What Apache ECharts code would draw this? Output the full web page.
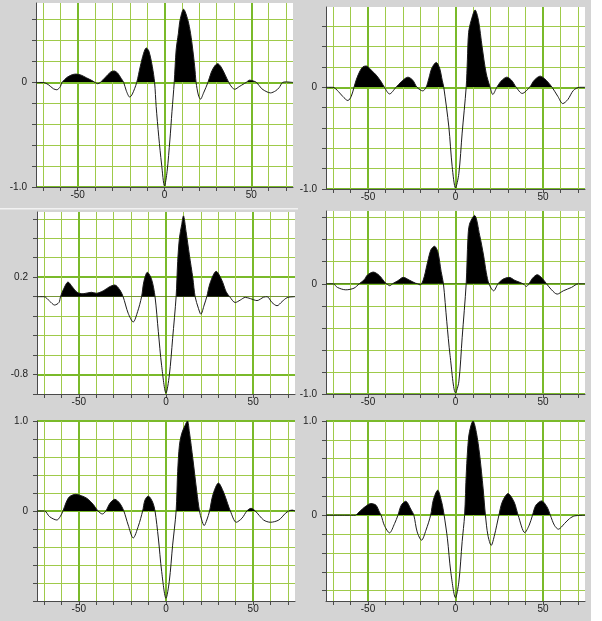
<!DOCTYPE html>
<html><head><meta charset="utf-8">
<script src="https://cdn.jsdelivr.net/npm/echarts@6/dist/echarts.min.js"></script>
<style>html,body{margin:0;padding:0;background:#fff}#c{width:602px;height:621px}</style>
</head><body><div id="c"></div>
<script>
// ---- data: [lag, correlation] ----
const trace1 = [[-74,0],[-70,0],[-67,-0.02],[-64,-0.06],[-62,-0.07],[-60,-0.04],[-59,0],[-56,0.05],[-53,0.075],[-51,0.08],[-48,0.07],[-45,0.045],[-42,0.02],[-40,0],[-38.5,-0.012],[-37,0],[-34,0.05],[-31,0.1],[-29,0.11],[-27,0.09],[-25,0.04],[-23.5,0],[-22,-0.08],[-20,-0.14],[-18.5,-0.11],[-16,0],[-14,0.15],[-12,0.28],[-10.5,0.33],[-9,0.3],[-7,0.15],[-5.7,0],[-4.8,-0.23],[-3.3,-0.52],[-1.7,-0.78],[0,-0.99],[1.5,-0.85],[3.1,-0.55],[4.3,-0.28],[5.6,0],[6.7,0.31],[8,0.47],[9,0.6],[11,0.7],[13.4,0.6],[15,0.47],[16.3,0.31],[17.4,0.15],[18.2,0],[19.5,-0.12],[20.7,-0.16],[22.5,-0.1],[25,0],[27,0.1],[29,0.16],[30.6,0.18],[32.5,0.15],[35,0.07],[37,0],[39,-0.05],[40.5,-0.065],[43,-0.04],[46,-0.01],[47,0],[49,0.022],[51,0.015],[53,0],[56,-0.06],[59,-0.09],[61,-0.1],[64,-0.08],[66,-0.05],[68,0],[70,0.005],[74,0]];
const trace2 = [[-74,0],[-70,0],[-67,-0.04],[-64.4,-0.09],[-61.5,-0.13],[-59.6,-0.09],[-58,0],[-56.8,0.07],[-54.9,0.15],[-53,0.2],[-51,0.21],[-48.2,0.17],[-45.3,0.12],[-42.5,0.055],[-40.6,0],[-37.7,-0.065],[-34,0],[-31,0.055],[-27.2,0.1],[-24.4,0.07],[-22,0],[-18.7,-0.035],[-16.8,0],[-15.2,0.09],[-13.5,0.19],[-11,0.245],[-9.1,0.19],[-7.6,0.07],[-6.7,0],[-3.8,-0.39],[-1.9,-0.78],[0,-0.99],[1.9,-0.85],[3.8,-0.45],[6.1,0],[6.8,0.27],[7.5,0.54],[9,0.66],[11.2,0.76],[13.1,0.66],[15.2,0.4],[17.5,0.14],[19.8,0],[21.3,-0.07],[23.6,0],[26,0.06],[29.3,0.1],[32,0.07],[34.7,0],[38.1,-0.06],[42.3,0],[45,0.07],[48.4,0.11],[51.8,0.07],[55.2,0],[58.5,-0.09],[61.3,-0.16],[64.2,-0.12],[67.4,-0.03],[70.9,0],[74,0]];
const trace3 = [[-74,0],[-70,0],[-66.8,-0.045],[-63.9,-0.086],[-61.4,-0.06],[-60.5,0],[-58.7,0.08],[-56.2,0.15],[-53.7,0.1],[-51,0.045],[-47.6,0.03],[-42.8,0.045],[-40,0.035],[-36,0.06],[-32.6,0.1],[-29.4,0.12],[-26.5,0.07],[-24.6,0],[-21.7,-0.17],[-18.8,-0.26],[-16.3,-0.155],[-14,0],[-12.7,0.155],[-10.7,0.25],[-8.3,0.18],[-6.3,0],[-4.4,-0.36],[-2.5,-0.71],[0,-0.99],[1.9,-0.81],[3.8,-0.43],[5.8,0],[6.7,0.36],[7.7,0.6],[9,0.74],[10,0.83],[11.5,0.67],[13.4,0.43],[15.4,0.19],[16.7,0],[18.6,-0.12],[20,-0.18],[21.9,-0.086],[23.4,0],[25.3,0.14],[28.8,0.26],[32,0.17],[34.5,0.05],[36.5,0],[39.7,-0.06],[42.6,-0.035],[45.5,-0.007],[48.4,-0.02],[52.2,-0.04],[56,-0.005],[58,0],[60.8,-0.06],[63.7,-0.093],[66.6,-0.05],[69.5,-0.01],[74,0]];
const trace4 = [[-74,0],[-70,0],[-67.5,-0.033],[-62.7,-0.055],[-58,-0.04],[-55,0],[-52.2,0.036],[-50.3,0.08],[-47,0.106],[-43.6,0.076],[-40.7,0.02],[-39.4,0],[-37.5,-0.018],[-36,0],[-33,0.027],[-29.8,0.058],[-26.4,0.033],[-23,0.006],[-21.6,0],[-20.3,-0.01],[-19.3,0],[-17.8,0.067],[-15.9,0.2],[-14,0.31],[-12,0.34],[-10.1,0.29],[-8.2,0.11],[-6.9,0],[-5,-0.34],[-3.1,-0.65],[0,-0.99],[1.9,-0.89],[3.8,-0.49],[6.1,0],[7.1,0.41],[8,0.54],[10.9,0.62],[13.8,0.44],[16,0.26],[17.6,0.1],[19.1,0],[21.8,-0.064],[24.3,0],[27,0.04],[30.6,0.058],[34,0.03],[38.6,0],[40.5,-0.024],[42,0],[44,0.05],[46.7,0.082],[49.5,0.05],[52,0],[54.9,-0.055],[58.1,-0.094],[61.6,-0.064],[66.3,-0.033],[70.2,0],[74,0]];
const trace5 = [[-74,0],[-69.7,0],[-66.8,-0.063],[-62.6,-0.1],[-60.7,-0.063],[-59.1,0],[-57.2,0.1],[-55.3,0.16],[-51.8,0.185],[-48.6,0.17],[-45.3,0.14],[-41.8,0.074],[-39,0],[-36.5,-0.033],[-34.5,0],[-32.2,0.085],[-29.4,0.13],[-26.5,0.085],[-24.2,0],[-21.7,-0.155],[-18.8,-0.3],[-15.9,-0.17],[-13.4,0],[-12.1,0.12],[-10.2,0.166],[-7.7,0.1],[-6.3,0],[-4.4,-0.3],[-2.5,-0.67],[0,-0.97],[1.9,-0.78],[3.8,-0.38],[5.8,0],[6.7,0.44],[7.7,0.73],[9,0.86],[10.9,0.95],[12.3,1.0],[13.4,0.88],[15.4,0.58],[17.7,0.21],[19.2,0],[20.5,-0.1],[21.9,-0.162],[23.4,-0.1],[25,0],[26.9,0.18],[30.1,0.31],[33,0.21],[35.3,0.085],[36.9,0],[40.3,-0.125],[43.6,-0.08],[46.4,0],[48.8,0.03],[51.2,0],[56,-0.1],[59.9,-0.125],[64.7,-0.1],[68.5,-0.026],[70.4,0],[72.4,0.01],[74,0]];
const trace6 = [[-74,0],[-57.3,0],[-56,0.018],[-53,0.07],[-48.3,0.124],[-45.4,0.106],[-43.5,0.035],[-42.5,0],[-40.6,-0.11],[-37.7,-0.187],[-34.8,-0.088],[-32.9,0],[-31,0.106],[-28.5,0.148],[-25.2,0.053],[-23.8,0],[-21.9,-0.177],[-19.4,-0.265],[-16.9,-0.16],[-14.2,0],[-12.7,0.16],[-10.2,0.265],[-7.9,0.14],[-6.5,0],[-4.6,-0.25],[-2.7,-0.6],[0,-0.876],[1.9,-0.71],[3.8,-0.28],[5.2,0],[6.2,0.46],[7.5,0.83],[8.8,0.95],[10,1.0],[11.9,0.88],[13.8,0.64],[15.8,0.28],[17.1,0],[18.5,-0.21],[20.4,-0.32],[22.3,-0.21],[24.8,0],[26.7,0.14],[30,0.23],[33.5,0.14],[35.8,0],[39.6,-0.184],[42.1,-0.106],[44,0],[45.9,0.106],[49.2,0.152],[52.3,0.088],[54.2,0],[56.5,-0.106],[58.8,-0.148],[62.3,-0.088],[65.2,-0.035],[68.1,-0.007],[74,0]];

// ---- tick values ----
const xMinorTicks = [-70,-60,-50,-40,-30,-20,-10,0,10,20,30,40,50,60,70];
const xLabelTicks = [-50,0,50];
const yMinor1 = [-1,-0.8,-0.6,-0.4,-0.2,0,0.2,0.4,0.6];
const yMinor3 = [-1,-0.8,-0.6,-0.4,-0.2,0,0.2,0.4,0.6,0.8];
const yMinor5 = [-1,-0.8,-0.6,-0.4,-0.2,0,0.2,0.4,0.6,0.8,1];
const yMinor6 = [-0.8,-0.6,-0.4,-0.2,0,0.2,0.4,0.6,0.8,1];
const yLabels1 = [-1,0];
const yLabels3 = [-0.8,0.2];
const yLabels5 = [0,1];

const panels = [
  {data: trace1, yMin:-1, yMax:0.76, minor:yMinor1, labels:yLabels1, box:{left:36, top:3, width:257, height:184}},
  {data: trace2, yMin:-1, yMax:0.79, minor:yMinor1, labels:yLabels1, box:{left:326, top:7, width:259, height:182}},
  {data: trace3, yMin:-1, yMax:0.87, minor:yMinor3, labels:yLabels3, box:{left:37, top:212, width:258, height:182}},
  {data: trace4, yMin:-1, yMax:0.66, minor:yMinor1, labels:yLabels1, box:{left:326, top:211, width:259, height:183}},
  {data: trace5, yMin:-1, yMax:1.0, minor:yMinor5, labels:yLabels5, box:{left:37, top:421, width:258, height:180}},
  {data: trace6, yMin:-0.91, yMax:1.0, minor:yMinor6, labels:yLabels5, box:{left:326, top:421, width:259, height:180}}
];

const minorGreen = '#9fca4a', majorGreen = '#7aba2a', axisGray = '#4a4a4a';
const labelStyle = {fontSize:10, fontFamily:'Liberation Sans, Arial, sans-serif', color:'#222'};
const fmt = v => (v === 0 ? '0' : v.toFixed(1));

const grid = [], xAxis = [], yAxis = [], series = [], areaIdx = [];
panels.forEach((p, i) => {
  grid.push(Object.assign({show:true, backgroundColor:'#fff', borderWidth:0, outerBoundsMode:'none', containLabel:false}, p.box));
  xAxis.push({type:'value', gridIndex:i, position:'bottom', min:-74, max:74,
    axisLine:{show:true, onZero:false, lineStyle:{color:axisGray, width:1}},
    axisTick:{show:true, customValues:xMinorTicks, length:4, lineStyle:{color:axisGray}},
    axisLabel:{show:false}, splitLine:{show:true, lineStyle:{color:minorGreen, width:1}}});
  xAxis.push({type:'value', gridIndex:i, position:'bottom', min:-74, max:74,
    axisLine:{show:false, onZero:false}, axisTick:{show:false, customValues:xLabelTicks},
    axisLabel:Object.assign({show:true, customValues:xLabelTicks, margin:3, formatter:v=>String(v)}, labelStyle),
    splitLine:{show:true, lineStyle:{color:majorGreen, width:2}}});
  yAxis.push({type:'value', gridIndex:i, position:'left', min:p.yMin, max:p.yMax,
    axisLine:{show:true, onZero:false, lineStyle:{color:axisGray, width:1}},
    axisTick:{show:true, customValues:p.minor, length:4, lineStyle:{color:axisGray}},
    axisLabel:{show:false}, splitLine:{show:true, lineStyle:{color:minorGreen, width:1}}});
  yAxis.push({type:'value', gridIndex:i, position:'left', min:p.yMin, max:p.yMax,
    axisLine:{show:false, onZero:false}, axisTick:{show:false, customValues:p.labels},
    axisLabel:Object.assign({show:true, customValues:p.labels, margin:9, formatter:fmt}, labelStyle),
    splitLine:{show:true, lineStyle:{color:majorGreen, width:2}}});
  areaIdx.push(series.length);
  series.push({type:'line', xAxisIndex:2*i, yAxisIndex:2*i, data:p.data, smooth:0.3, symbol:'none',
    lineStyle:{width:0, opacity:0}, areaStyle:{opacity:1}, z:3, silent:true, animation:false});
  series.push({type:'line', xAxisIndex:2*i, yAxisIndex:2*i, data:p.data, smooth:0.3, symbol:'none',
    lineStyle:{width:1, color:'#1c1c1c'}, itemStyle:{color:'#1c1c1c'}, z:4, silent:true, animation:false});
});

const chart = echarts.init(document.getElementById('c'), null, {renderer:'canvas'});
chart.setOption({
  backgroundColor:'#d4d4d4',
  animation:false,
  graphic:[
    {type:'rect', shape:{x:591, y:0, width:11, height:621}, style:{fill:'#fff'}, z:-10},
    {type:'rect', shape:{x:0, y:208, width:298, height:1.5}, style:{fill:'#f2f2f2'}, z:-10}
  ],
  grid, xAxis, yAxis, series,
  visualMap:[{type:'piecewise', show:false, dimension:1, seriesIndex:areaIdx,
    pieces:[{gte:-5, lte:0, color:'rgba(0,0,0,0)'}, {gt:0, lte:5, color:'#000'}]}]
});
</script></body></html>
